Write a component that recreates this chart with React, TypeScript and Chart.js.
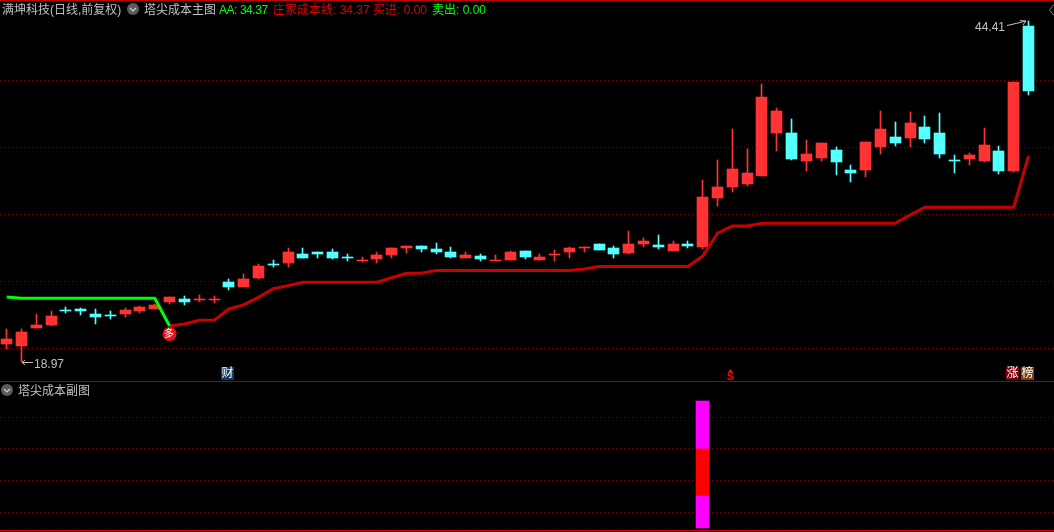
import React, { useEffect, useRef } from "react";
import { Chart, registerables } from "chart.js";

Chart.register(...registerables);

const indices = Array.from({ length: 70 }, (_, i) => i);

const highs = [21.46,21.46,22.57,22.80,23.10,23.02,22.95,22.80,23.02,23.17,23.32,23.84,23.92,23.99,23.92,25.19,25.56,26.31,26.60,27.50,27.50,27.20,27.43,27.05,26.83,27.20,27.50,27.65,27.65,27.87,27.57,27.20,27.05,26.98,27.28,27.28,27.05,27.35,27.57,27.57,27.80,27.65,28.77,28.25,28.47,28.02,28.02,32.57,34.07,36.38,34.89,39.74,37.95,37.13,35.56,35.34,35.04,33.69,35.41,37.72,36.90,37.65,37.35,37.57,34.44,34.59,36.46,35.11,39.89,44.41];
const lows = [19.99,18.97,21.53,21.68,22.65,22.50,21.83,22.20,22.35,22.65,22.95,23.32,23.25,23.47,23.40,24.37,24.59,25.19,26.08,26.08,26.75,26.75,26.68,26.53,26.46,26.38,26.75,27.13,27.20,27.05,26.75,26.75,26.53,26.60,26.60,26.68,26.60,26.53,26.75,27.20,27.35,26.75,27.05,27.57,27.43,27.28,27.50,27.43,30.63,31.68,32.13,32.87,34.74,34.07,33.25,34.01,32.95,32.43,32.80,34.51,35.11,35.04,35.34,34.22,33.10,33.69,33.92,33.02,33.17,38.92];
const bodyTops = [20.71,21.23,21.75,22.43,22.87,22.95,22.57,22.50,22.87,23.10,23.25,23.84,23.69,23.73,23.66,24.96,25.19,26.16,26.34,27.20,27.05,27.20,27.20,26.83,26.64,26.98,27.50,27.65,27.65,27.43,27.20,26.98,26.90,26.64,27.20,27.28,26.83,27.05,27.50,27.54,27.80,27.50,27.80,28.02,27.72,27.80,27.80,31.31,32.05,33.40,33.10,38.77,37.72,36.08,34.51,35.34,34.81,33.32,35.41,36.38,35.78,36.83,36.53,36.08,34.10,34.44,35.19,34.74,39.89,44.07];
const bodyBottoms = [20.34,20.19,21.53,21.75,22.87,22.80,22.35,22.50,22.57,22.80,22.95,23.47,23.47,23.73,23.66,24.59,24.59,25.26,26.34,26.38,26.75,27.05,26.75,26.83,26.64,26.68,26.98,27.50,27.43,27.20,26.83,26.75,26.68,26.64,26.60,26.83,26.60,27.05,27.20,27.54,27.35,27.05,27.13,27.80,27.57,27.28,27.65,27.57,31.23,32.05,32.28,32.87,36.08,34.14,33.99,34.22,33.92,33.10,33.32,35.04,35.34,35.71,35.63,34.51,34.10,34.14,33.99,33.25,33.25,39.24];
const rising = [1,1,1,1,0,0,0,0,1,1,1,1,0,1,1,0,1,1,0,1,0,0,0,0,1,1,1,1,0,0,0,1,0,1,1,0,1,1,1,1,0,0,1,1,0,1,0,1,1,1,1,1,1,0,1,1,0,0,1,1,0,1,0,0,0,1,1,0,1,0];

const bullLine = [23.84,23.75,23.75,23.75,23.75,23.75,23.75,23.75,23.75,23.75,23.75,21.68];
const dealerCost = [21.68,21.83,22.10,22.10,22.95,23.25,23.82,24.46,24.69,24.94,24.94,24.94,24.94,24.94,24.94,25.28,25.61,25.61,25.83,25.83,25.83,25.83,25.83,25.83,25.83,25.83,25.83,25.83,25.93,26.12,26.12,26.12,26.12,26.12,26.12,26.12,26.90,28.60,29.14,29.14,29.34,29.34,29.34,29.34,29.34,29.34,29.34,29.34,29.34,29.34,29.96,30.54,30.54,30.54,30.54,30.54,30.54,30.54,34.37];
const dealerStart = 11;
const buySignalIndex = 11;
const buySignalPrice = 21.08;

const priceGrid = [20, 25, 30, 35, 40];
const subGrid = [10, 30, 50, 70];
const subIndex = 47;
const subSegments = [
  { from: 0, to: 20, color: "#ff00ff" },
  { from: 20, to: 50, color: "#ff0000" },
  { from: 50, to: 80, color: "#ff00ff" },
];

const RED = "#ff3333";
const CYAN = "#54ffff";
const GRID = "#780000";

const snapBars = {
  id: "snapBars",
  afterDatasetsUpdate(chart: any) {
    chart.getSortedVisibleDatasetMetas().forEach((m: any) => {
      if (m.type !== "bar") return;
      m.data.forEach((el: any) => {
        el.x = Math.floor(el.x) + 0.5;
        const a = Math.round(Math.min(el.y, el.base));
        let b = Math.round(Math.max(el.y, el.base));
        if (b <= a) b = a + 1;
        el.y = a;
        el.base = b;
      });
    });
  },
};

const xScale = {
  type: "linear",
  display: false,
  offset: false,
  min: -0.452,
  max: 70.72,
  grid: { display: false },
};

function gridScale(min: number, max: number, values: number[]) {
  return {
    type: "linear",
    position: "left",
    min,
    max,
    afterBuildTicks(axis: any) {
      axis.ticks = values.map((value) => ({ value }));
    },
    ticks: { display: false },
    border: { display: false, dash: [1, 3] },
    grid: { color: GRID, lineWidth: 1, drawTicks: false },
  };
}

const commonOptions = {
  animation: false,
  responsive: false,
  maintainAspectRatio: false,
  layout: { padding: 0, autoPadding: false },
  plugins: { legend: { display: false }, tooltip: { enabled: false } },
};

const pts = (arr: number[], start = 0) => arr.map((y, i) => ({ x: start + i, y }));

const Label = ({ x, y, color, children, size = 12, spacing = 0 }: any) => (
  <span style={{ position: "absolute", left: x, top: y, color, fontSize: size, letterSpacing: spacing, lineHeight: "14px", whiteSpace: "pre" }}>{children}</span>
);

const Tag = ({ x, bg, children, w = 13 }: any) => (
  <span style={{ position: "absolute", left: x, top: 367, width: w, height: 13, background: bg, color: "#fff", fontSize: 12, lineHeight: "13px", textAlign: "center" }}>{children}</span>
);

const Bullet = ({ cx, cy }: any) => (
  <svg style={{ position: "absolute", left: cx - 6, top: cy - 6 }} width={12} height={12}>
    <circle cx={6} cy={6} r={6} fill="#5c5c5c" />
    <polyline points="3,5 6,8 9,5" fill="none" stroke="#d0d0d0" strokeWidth={1.2} />
  </svg>
);

export default function App() {
  const mainRef = useRef<HTMLCanvasElement>(null);
  const subRef = useRef<HTMLCanvasElement>(null);

  useEffect(() => {
    document.body.style.background = "#000";
    const colors = rising.map((r) => (r ? RED : CYAN));
    const mainChart = new Chart(mainRef.current as any, {
      type: "bar",
      plugins: [snapBars],
      data: {
        datasets: [
          {
            label: "wick",
            data: indices.map((i) => ({ x: i, y: [lows[i], highs[i]] })),
            backgroundColor: colors,
            barThickness: 1,
            grouped: false,
            order: 3,
          },
          {
            label: "body",
            data: indices.map((i) => ({ x: i, y: [bodyBottoms[i], bodyTops[i]] })),
            backgroundColor: colors,
            barThickness: 11,
            grouped: false,
            order: 2,
          },
          {
            type: "line",
            label: "AA",
            data: pts(bullLine),
            borderColor: "#00ff00",
            borderWidth: 3,
            pointRadius: 0,
            order: 1,
          },
          {
            type: "line",
            label: "庄家成本线",
            data: pts(dealerCost, dealerStart),
            borderColor: "#c80000",
            borderWidth: 3,
            pointRadius: 0,
            order: 1,
          },
          {
            type: "scatter",
            label: "多",
            data: [{ x: buySignalIndex, y: buySignalPrice }],
            backgroundColor: "#e8141c",
            pointRadius: 7,
            borderWidth: 0,
            order: 0,
          },
        ] as any,
      },
      options: {
        ...commonOptions,
        scales: {
          x: xScale,
          y: gridScale(17.575, 46.007, priceGrid),
        },
      } as any,
    });
    const subChart = new Chart(subRef.current as any, {
      type: "bar",
      plugins: [snapBars],
      data: {
        datasets: subSegments.map((s) => ({
          label: "塔尖成本副图",
          data: [{ x: subIndex, y: [s.from, s.to] }],
          backgroundColor: s.color,
          barThickness: 13,
          grouped: false,
        })) as any,
      },
      options: {
        ...commonOptions,
        scales: {
          x: xScale,
          y: gridScale(-1.26, 92.2, subGrid),
        },
      } as any,
    });
    return () => {
      mainChart.destroy();
      subChart.destroy();
    };
  }, []);

  return (
    <div style={{ position: "fixed", left: 0, top: 0, width: 1054, height: 532, background: "#000", overflow: "hidden", fontFamily: '"Liberation Sans","Noto Sans CJK SC",sans-serif' }}>
      <canvas ref={mainRef} width={1054} height={381} style={{ position: "absolute", left: 0, top: 0, width: 1054, height: 381, display: "block" }} />
      <canvas ref={subRef} width={1054} height={148} style={{ position: "absolute", left: 0, top: 382, width: 1054, height: 148, display: "block" }} />
      <div style={{ position: "absolute", left: 0, top: 0, width: 1054, height: 1, background: "#c00000" }} />
      <div style={{ position: "absolute", left: 0, top: 381, width: 1054, height: 1, background: "#a00000" }} />
      <div style={{ position: "absolute", left: 0, top: 530, width: 1054, height: 1, background: "#c00000" }} />

      <Label x={2} y={3} color="#c0c0c0">满坤科技(日线,前复权)</Label>
      <Bullet cx={133} cy={9} />
      <Label x={144} y={3} color="#c0c0c0">塔尖成本主图</Label>
      <Label x={219} y={3} color="#00ff00" spacing={-0.45}>AA: 34.37</Label>
      <Label x={273} y={3} color="#e00000">庄家成本线: 34.37</Label>
      <Label x={373} y={3} color="#e00000">买进: 0.00</Label>
      <Label x={432} y={3} color="#00ff00">卖出: 0.00</Label>

      <Bullet cx={7} cy={390} />
      <Label x={18} y={384} color="#c0c0c0">塔尖成本副图</Label>

      <Label x={975} y={20} color="#c0c0c0">44.41</Label>
      <Label x={34} y={357} color="#c0c0c0">18.97</Label>
      <svg style={{ position: "absolute", left: 0, top: 0 }} width={1054} height={532}>
        <polyline points="1007,25.5 1018,23 1026,21" fill="none" stroke="#c0c0c0" />
        <polyline points="1020,20.5 1026,21 1023,25" fill="none" stroke="#c0c0c0" />
        <line x1={22} y1={362.5} x2={33} y2={362.5} stroke="#c0c0c0" />
        <polyline points="25,360 22,362.5 25,365" fill="none" stroke="#c0c0c0" />
        <polyline points="1054,4.5 1049.5,10 1054,15.5" fill="none" stroke="#808080" />
        <polygon points="730.5,369 733,372 728,372" fill="#ff0000" />
      </svg>
      <span style={{ position: "absolute", left: 169 - 7, top: 327, width: 14, height: 14, color: "#fff", fontSize: 10, lineHeight: "14px", textAlign: "center" }}>多</span>
      <Tag x={221} bg="#123a66">财</Tag>
      <span style={{ position: "absolute", left: 726, top: 370, width: 9, color: "#ff0000", fontSize: 11, fontWeight: 700, lineHeight: "12px", textAlign: "center" }}>S</span>
      <Tag x={1006} bg="#800010">涨</Tag>
      <Tag x={1021} bg="#804010">榜</Tag>
    </div>
  );
}
